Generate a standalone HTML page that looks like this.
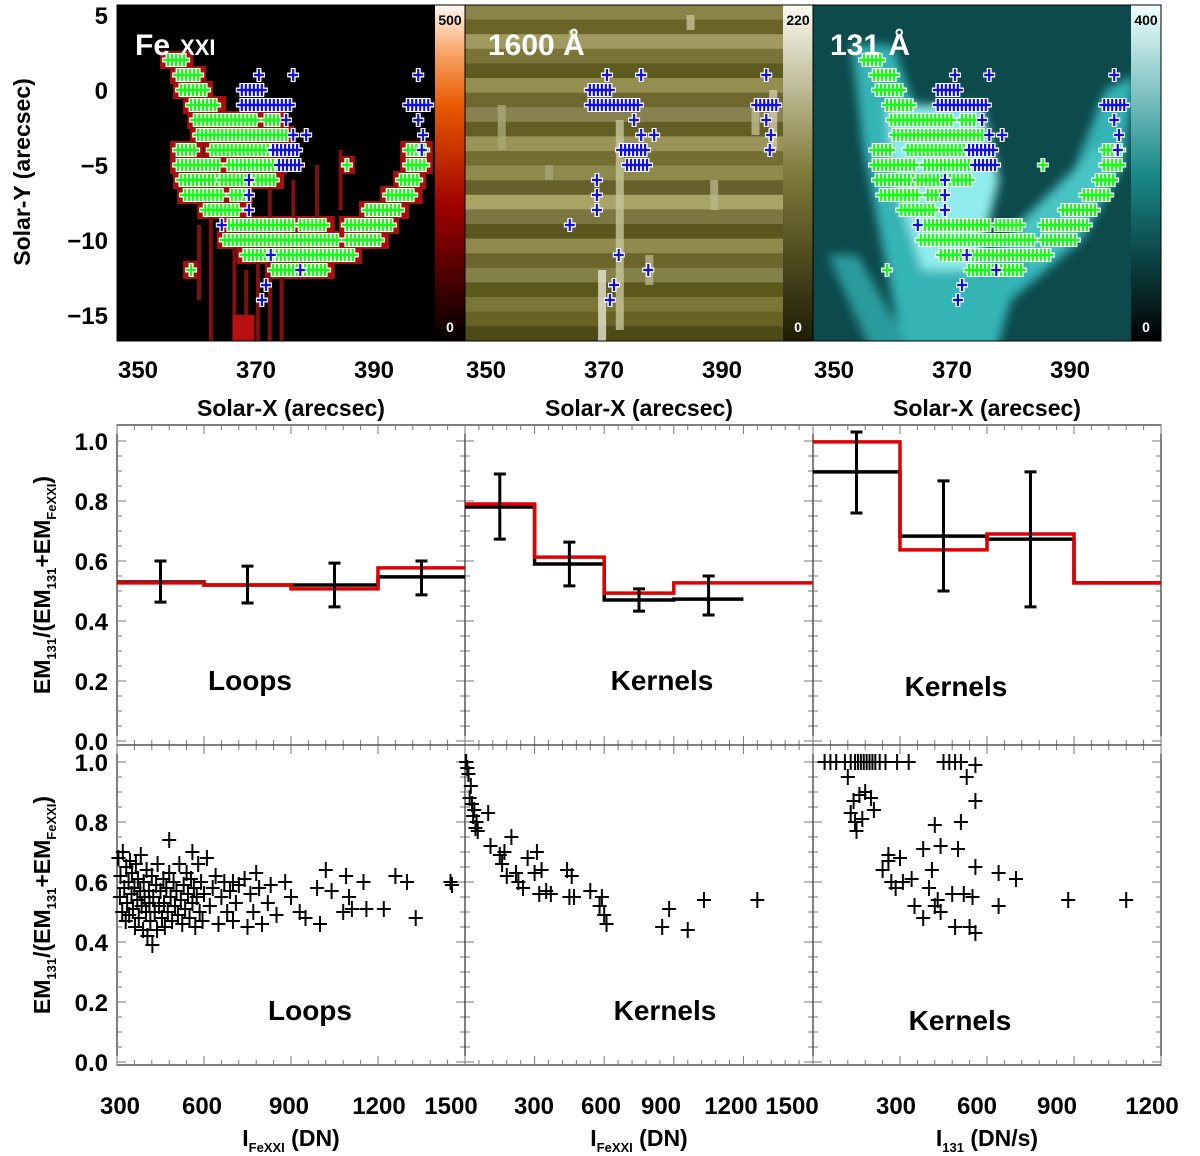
<!DOCTYPE html>
<html><head><meta charset="utf-8"><style>
html,body{margin:0;padding:0;background:#fff;}
svg{display:block;font-family:"Liberation Sans",sans-serif;}
</style></head><body>
<svg id="fig" width="1200" height="1156" viewBox="0 0 1200 1156" xmlns="http://www.w3.org/2000/svg">
<defs>
<linearGradient id="cb1" x1="0" y1="1" x2="0" y2="0"><stop offset="0" stop-color="#000"/><stop offset="0.4" stop-color="#a00000"/><stop offset="0.7" stop-color="#e85a00"/><stop offset="0.85" stop-color="#f8a060"/><stop offset="1" stop-color="#fff8f0"/></linearGradient>
<linearGradient id="cb2" x1="0" y1="1" x2="0" y2="0"><stop offset="0" stop-color="#1e1c05"/><stop offset="0.5" stop-color="#807a3a"/><stop offset="1" stop-color="#fafaf0"/></linearGradient>
<linearGradient id="cb3" x1="0" y1="1" x2="0" y2="0"><stop offset="0" stop-color="#000"/><stop offset="0.5" stop-color="#1a8a8a"/><stop offset="1" stop-color="#f0ffff"/></linearGradient>
<filter id="bl" x="-20%" y="-20%" width="140%" height="140%"><feGaussianBlur stdDeviation="5"/></filter>
<clipPath id="c0"><rect x="117" y="5" width="318" height="336"/></clipPath>
<clipPath id="c1"><rect x="465" y="5" width="318" height="336"/></clipPath>
<clipPath id="c2"><rect x="813" y="5" width="318" height="336"/></clipPath>
</defs>
<g id="top"></g>
<g id="mid"></g>
<g id="bot"></g>
<g id="labels"></g>
</svg>
<script>
// ---------- data ----------
const greenRows = [[2,355.1,358.0],[1,356.8,360.2],[0,357.3,361.4],[-1,359.0,363.6],[-2,359.7,370.0],[-2,371.7,373.9],[-3,360.2,375.1],
[-4,356.8,359.7],[-4,362.5,373.4],[-4,395.8,398.6],[-5,356.8,364.2],[-5,365.4,373.9],[-5,385.4,385.4],[-5,395.8,398.6],
[-6,357.3,363.6],[-6,364.2,373.4],[-6,394.6,397.5],[-7,358.0,364.7],[-7,365.9,368.1],[-7,392.4,396.9],[-8,361.4,367.1],[-8,388.8,394.6],
[-9,365.4,376.3],[-9,377.5,382.0],[-9,385.4,392.9],[-10,364.7,384.2],[-10,385.4,391.2],[-11,368.1,386.6],[-12,359.0,359.0],[-12,372.9,382.0]];
const blueRows = [[1,370.5,370.5],[1,376.3,376.3],[1,397.5,397.5],[0,367.6,371.0],[-1,367.6,375.8],[-1,395.8,399.2],[-2,375.1,375.1],[-2,397.5,397.5],
[-3,376.3,376.3],[-3,378.5,378.5],[-3,398.3,398.3],[-4,372.9,377.5],[-4,398.1,398.1],[-5,373.9,377.5],[-6,368.8,368.8],[-7,368.8,368.8],[-8,368.8,368.8],
[-9,364.2,364.2],[-11,372.5,372.5],[-12,377.5,377.5],[-13,371.7,371.7],[-14,371.0,371.0]];
const imgXTicks=[350,370,390], imgYTicks=[5,0,-5,-10,-15];

const binsA=[300,600,900,1200,1500];
const loopsBlack=[0.53,0.52,0.52,0.547], loopsRed=[0.527,0.52,0.507,0.577];
const loopsErrLo=[0.463,0.46,0.447,0.487], loopsErrHi=[0.6,0.583,0.593,0.6];
const binsB=[0,300,600,900,1200,1500];
const kerBlack=[0.78,0.59,0.47,0.473], kerRed=[0.79,0.613,0.493,0.527,0.527];
const kerErrLo=[0.673,0.517,0.433,0.42], kerErrHi=[0.89,0.663,0.507,0.55];
const binsC=[0,300,600,900,1200];
const k131Black=[0.897,0.683,0.673,0.527], k131Red=[0.997,0.637,0.69,0.527];
const k131ErrLo=[0.76,0.5,0.447], k131ErrHi=[1.03,0.867,0.897];

const loopsX=[305,310,312,318,320,325,330,332,335,340,342,345,350,352,355,360,362,365,370,372,375,380,382,385,390,392,395,400,402,405,410,412,415,420,422,425,430,435,438,440,445,450,455,460,462,465,470,475,480,485,490,495,500,505,510,515,520,525,530,535,540,545,550,555,560,565,570,575,580,585,590,595,600,610,620,630,640,650,660,670,680,690,700,710,720,740,750,760,770,780,790,800,820,830,850,880,900,930,950,990,1000,1020,1040,1080,1090,1100,1110,1150,1160,1220,1260,1300,1330,1450,1455,480,560,700];
const loopsY=[0.68,0.55,0.62,0.50,0.70,0.58,0.47,0.65,0.53,0.60,0.49,0.67,0.56,0.63,0.51,0.58,0.45,0.66,0.54,0.61,0.48,0.57,0.69,0.52,0.44,0.60,0.55,0.50,0.64,0.42,0.57,0.53,0.47,0.62,0.39,0.55,0.50,0.59,0.44,0.66,0.52,0.57,0.48,0.61,0.53,0.45,0.58,0.50,0.63,0.55,0.47,0.60,0.52,0.57,0.49,0.66,0.54,0.46,0.59,0.51,0.63,0.56,0.48,0.61,0.53,0.58,0.45,0.55,0.66,0.50,0.60,0.47,0.56,0.68,0.52,0.58,0.62,0.46,0.55,0.60,0.50,0.57,0.47,0.53,0.59,0.61,0.45,0.56,0.50,0.63,0.58,0.46,0.53,0.59,0.49,0.60,0.55,0.50,0.48,0.58,0.46,0.64,0.57,0.50,0.62,0.55,0.51,0.60,0.51,0.51,0.62,0.60,0.48,0.60,0.59,0.74,0.70,0.60];
const kerX=[5,10,15,25,20,30,40,35,50,45,55,100,110,150,170,160,200,180,220,230,250,270,310,330,300,350,370,320,450,460,440,470,540,580,590,600,610,850,880,960,1030,1260];
const kerY=[1.0,0.98,0.96,0.92,0.88,0.86,0.84,0.82,0.80,0.78,0.77,0.83,0.72,0.69,0.70,0.66,0.75,0.62,0.63,0.60,0.58,0.68,0.70,0.64,0.63,0.57,0.56,0.56,0.55,0.62,0.64,0.55,0.57,0.52,0.55,0.49,0.46,0.45,0.51,0.44,0.54,0.54];
const k131X=[40,60,80,110,130,145,155,165,175,185,195,205,215,230,250,290,330,450,470,490,510,560,530,120,160,180,140,200,130,170,210,145,150,560,420,510,380,440,500,300,260,410,560,240,310,340,400,350,430,480,520,550,640,700,260,270,285,420,440,490,560,640,880,1080,540,380];
const k131Y=[1,1,1,1,1,1,1,1,1,1,1,1,1,1,1,1,1,1,1,1,1,0.99,0.95,0.95,0.89,0.90,0.87,0.88,0.83,0.81,0.84,0.80,0.77,0.87,0.79,0.80,0.71,0.72,0.71,0.68,0.67,0.64,0.65,0.64,0.60,0.61,0.58,0.52,0.54,0.56,0.56,0.55,0.63,0.61,0.69,0.60,0.58,0.52,0.50,0.45,0.43,0.52,0.54,0.54,0.45,0.48];
const ratioTicks=[0,0.2,0.4,0.6,0.8,1.0];

// ---------- helpers ----------
const NS="http://www.w3.org/2000/svg";
function mk(parent,tag,attrs){const e=document.createElementNS(NS,tag);for(const k in attrs)e.setAttribute(k,attrs[k]);parent.appendChild(e);return e;}
const TOP=document.getElementById('top'),MID=document.getElementById('mid'),BOT=document.getElementById('bot'),LAB=document.getElementById('labels');
function txt(parent,x,y,s,size,anchor,fill,name){const t=mk(parent,'text',{x:x,y:y,'font-size':size,'text-anchor':anchor||'middle',fill:fill||'#000','font-weight':'bold'});t.textContent=s;


return t;}

const PX=[117,465,813];
function ix(p,X){return PX[p]+21+(X-350)*5.9;}
function iy(Y){return 90-Y*15;}
function pts(p,arr){return arr.map(a=>ix(p,a[0])+','+iy(a[1])).join(' ');}

// ---------- top image panels ----------
const bgCols=['#000','#6e6a2a','#0c4a4c'];
for(let p=0;p<3;p++){
  const g=mk(TOP,'g',{});
  
  
  const im=mk(g,'g',{'clip-path':'url(#c'+p+')'});
  mk(im,'rect',{x:PX[p],y:5,width:318,height:336,fill:bgCols[p]});
  if(p===0){
    greenRows.forEach(r=>{mk(im,'rect',{x:ix(0,r[1])-8,y:iy(r[0])-9,width:ix(0,r[2])-ix(0,r[1])+16,height:18,fill:'#a81010'});});
    const streak=[[362,-6,-17],[366,-7,-15],[370,-9,-17],[372,-5,-14],[376,-6,-12],[380,-5,-9],[384,-4,-8],[360,-9,-14],[374,-12,-17.5],[368,-12,-17.5],[372,-13,-17.5]];
    streak.forEach(s=>mk(im,'rect',{x:ix(0,s[0]),y:iy(s[1]),width:4,height:iy(s[2])-iy(s[1]),fill:'#801010'}));
    mk(im,'rect',{x:ix(0,366),y:iy(-15),width:22,height:iy(-17.5)-iy(-15),fill:'#b81010'});
  }
  if(p===1){
    const shades=['#8a8448','#6a6428','#a09a60','#7a7438','#5e5a20','#948e50','#6e6830','#888250','#625e24','#9a9458','#746e32','#8e8a4e','#66602a','#a8a468','#7c7640','#5a561e','#908a4c','#6c662c','#84804a','#5c581c','#7a7636','#686224','#4e4a18'];
    for(let i=0;i<23;i++) mk(im,'rect',{x:PX[1],y:5+i*14.6,width:318,height:15,fill:shades[i]});
    const light=[[372,-2,-16,'#c8c498'],[369,-12,-17,'#e8e4d0'],[352,-1,-4,'#aaa676'],[388,-6,-8,'#b8b488'],[395,-1,-3,'#c0bc90'],[377,-11,-13,'#b8b488'],[364,4,3,'#b0ac80'],[384,5,4,'#c4c098'],[398,0,-4,'#d0cca8'],[360,-5,-6,'#a8a478']];
    light.forEach(s=>mk(im,'rect',{x:ix(0,s[0])+348,y:iy(s[1]),width:8,height:iy(s[2])-iy(s[1]),fill:s[3],opacity:0.8}));
  }
  if(p===2){
    const gg=mk(im,'g',{filter:'url(#bl)'});
    mk(gg,'polygon',{points:pts(2,[[353,3],[360,3],[368,-6],[376,-11],[390,-6],[396,0],[401,1],[399,-5],[392,-10],[380,-14],[377,-18],[362,-18],[358,-10],[355,-4]]),fill:'#36b4b6'});
    mk(gg,'polygon',{points:pts(2,[[359,-1],[375,-1],[378,-6],[374,-12],[365,-12],[360,-6]]),fill:'#90ecec'});
    mk(gg,'polygon',{points:pts(2,[[349,-11],[354,-11],[364,-18],[357,-18]]),fill:'#2a9c9e'});
    mk(gg,'polygon',{points:pts(2,[[381,-9],[394,-4],[398,-4],[392,-9],[384,-12]]),fill:'#48c4c4'});
  }
  const cb=mk(g,'rect',{x:PX[p]+318,y:5,width:30,height:336,fill:'url(#cb'+(p+1)+')'});
  
  
  txt(g,PX[p]+333,25,['500','220','400'][p],14,'middle','#000','colorbar-max');
  txt(g,PX[p]+333,332,'0',14,'middle','#fff','colorbar-min');
  mk(g,'rect',{x:PX[p],y:5,width:348,height:336,fill:'none',stroke:'#000','stroke-width':1});
  imgXTicks.forEach(v=>txt(LAB,ix(p,v),378,String(v),24,'middle','#000','x-tick-label'));
  txt(LAB,PX[p]+174,416,'Solar-X (arecsec)',23,'middle','#000','x-axis-title');
}
imgYTicks.forEach(v=>txt(LAB,108,iy(v)+9,v<0?'\u2212'+(-v):String(v),24,'end','#000','y-tick-label'));
const yt=txt(LAB,0,0,'Solar-Y (arecsec)',23,'middle','#000','y-axis-title');
yt.setAttribute('transform','translate(30,172) rotate(-90)');
txt(LAB,135,55,'Fe',30,'start','#fff','panel-title-fexxi');
txt(LAB,180,55,'XXI',22,'start','#fff','panel-title-fexxi-sub');
txt(LAB,488,55,'1600 Å',30,'start','#fff','panel-title-1600');
txt(LAB,830,55,'131 Å',30,'start','#fff','panel-title-131');

function cross(parent,x,y,col,halo){
  if(halo){mk(parent,'path',{d:`M${x-6} ${y}H${x+6}M${x} ${y-7}V${y+7}`,stroke:'#fff','stroke-width':5});}
  else mk(parent,'path',{d:`M${x-5} ${y}H${x+5}M${x} ${y-6}V${y+6}`,stroke:col,'stroke-width':2.2});
}
function drawRows(rows,panel,col){
  const g=mk(TOP,'g',{});
  
  
  rows.forEach(r=>{const y=iy(r[0]);const x0=ix(panel,r[1]),x1=ix(panel,r[2]);
    for(let x=x0;x<=x1+0.1;x+=4) cross(g,x,y,col,true);
    for(let x=x0;x<=x1+0.1;x+=4) cross(g,x,y,col,false);});
}
drawRows(greenRows,0,'#10ff10');drawRows(blueRows,0,'#1010e0');
drawRows(blueRows,1,'#1010e0');
drawRows(greenRows,2,'#10ff10');drawRows(blueRows,2,'#1010e0');

// ---------- middle & bottom panels ----------
const XR=[[300,1500],[0,1500],[0,1200]];
function px(p,v){return PX[p]+(v-XR[p][0])/(XR[p][1]-XR[p][0])*348;}
function pyM(v){return 741-v*300;}
function pyB(v){return 1062-v*300;}
function frame(parent,p,top,bottom,pyf,name){
  const r=mk(parent,'rect',{x:PX[p],y:top,width:348,height:bottom-top,fill:'none',stroke:'#000','stroke-width':1});
  
  
  for(let v=0;v<=1.0001;v+=0.05){const y=pyf(v);const L=(Math.round(v*100)%20===0)?9:5;
    mk(parent,'line',{x1:PX[p],x2:PX[p]+L,y1:y,y2:y,stroke:'#777','stroke-width':1});
    mk(parent,'line',{x1:PX[p]+348-L,x2:PX[p]+348,y1:y,y2:y,stroke:'#777','stroke-width':1});}
  for(let v=XR[p][0];v<=XR[p][1];v+=60){const x=px(p,v);const L=(v%300===0)?9:5;
    mk(parent,'line',{x1:x,x2:x,y1:bottom,y2:bottom-L,stroke:'#777','stroke-width':1});
    mk(parent,'line',{x1:x,x2:x,y1:top,y2:top+L,stroke:'#777','stroke-width':1});}
}
function steps(parent,p,bins,vals,col,w,name){
  let d='';vals.forEach((v,i)=>{const x0=px(p,bins[i]),x1=px(p,Math.min(bins[i+1],XR[p][1]));const y=pyM(v);d+=(i===0?'M':'L')+x0+' '+y+'L'+x1+' '+y;});
  const e=mk(parent,'path',{d:d,fill:'none',stroke:col,'stroke-width':w});
  
  
}
function errs(parent,p,bins,lo,hi){
  lo.forEach((l,i)=>{const x=px(p,(bins[i]+bins[i+1])/2);const y0=pyM(l),y1=pyM(hi[i]);
    const e=mk(parent,'path',{d:`M${x} ${y0}V${y1}M${x-6} ${y0}H${x+6}M${x-6} ${y1}H${x+6}`,stroke:'#000','stroke-width':3,fill:'none'});
    
    });
}
for(let p=0;p<3;p++){frame(MID,p,425,745,pyM,'ratio-hist-panel');frame(BOT,p,745,1065,pyB,'ratio-scatter-panel');}
steps(MID,0,binsA,loopsBlack,'#000',3.5,'loops-black-step');steps(MID,0,binsA,loopsRed,'#e00000',3.5,'loops-red-step');errs(MID,0,binsA,loopsErrLo,loopsErrHi);
steps(MID,1,binsB,kerBlack,'#000',3.5,'kernels-black-step');steps(MID,1,binsB,kerRed,'#e00000',3.5,'kernels-red-step');errs(MID,1,binsB,kerErrLo,kerErrHi);
steps(MID,2,binsC,k131Black,'#000',3.5,'kernels131-black-step');steps(MID,2,binsC,k131Red,'#e00000',3.5,'kernels131-red-step');errs(MID,2,binsC,k131ErrLo,k131ErrHi);

function scatter(p,xs,ys,name){
  const g=mk(BOT,'g',{});
  
  
  xs.forEach((v,i)=>{const x=px(p,v),y=pyB(ys[i]);
    mk(g,'path',{d:`M${x-7} ${y}H${x+7}M${x} ${y-8}V${y+8}`,stroke:'#000','stroke-width':2});});
}
scatter(0,loopsX,loopsY,'loops-scatter');scatter(1,kerX,kerY,'kernels-fexxi-scatter');scatter(2,k131X,k131Y,'kernels-131-scatter');

ratioTicks.forEach(v=>{txt(LAB,108,pyM(v)+9,v.toFixed(1),24,'end','#000','y-tick-label');txt(LAB,108,pyB(v)+9,v.toFixed(1),24,'end','#000','y-tick-label');});
const xlabVals=['300','600','900','1200','1500','300','600','900','1200','1500','300','600','900','1200'];
const xlabPos=[120,202,289,379,451,534,601,661,731,792,896,977,1057,1152];
xlabVals.forEach((s,i)=>txt(LAB,xlabPos[i],1114,s,24,'middle','#000','x-tick-label'));
[585,905].forEach(c=>{const t=mk(LAB,'text',{transform:`translate(50,${c}) rotate(-90)`,'text-anchor':'middle','font-size':23,'font-weight':'bold'});


t.innerHTML='EM<tspan font-size="13" dy="6">131</tspan><tspan dy="-6">/(EM</tspan><tspan font-size="13" dy="6">131</tspan><tspan dy="-6">+EM</tspan><tspan font-size="13" dy="6">FeXXI</tspan><tspan dy="-6">)</tspan>';});
[[291,'FeXXI','(DN)'],[639,'FeXXI','(DN)'],[987,'131','(DN/s)']].forEach(a=>{const t=mk(LAB,'text',{x:a[0],y:1146,'text-anchor':'middle','font-size':23,'font-weight':'bold'});


t.innerHTML=`I<tspan font-size="13" dy="6">${a[1]}</tspan><tspan dy="-6"> ${a[2]}</tspan>`;});
txt(LAB,250,690,'Loops',28,'middle','#000','panel-label-loops');
txt(LAB,662,690,'Kernels',28,'middle','#000','panel-label-kernels');
txt(LAB,956,696,'Kernels',28,'middle','#000','panel-label-kernels-131');
txt(LAB,310,1020,'Loops',28,'middle','#000','panel-label-loops');
txt(LAB,665,1020,'Kernels',28,'middle','#000','panel-label-kernels');
txt(LAB,960,1030,'Kernels',28,'middle','#000','panel-label-kernels-131');
</script>
</body></html>
